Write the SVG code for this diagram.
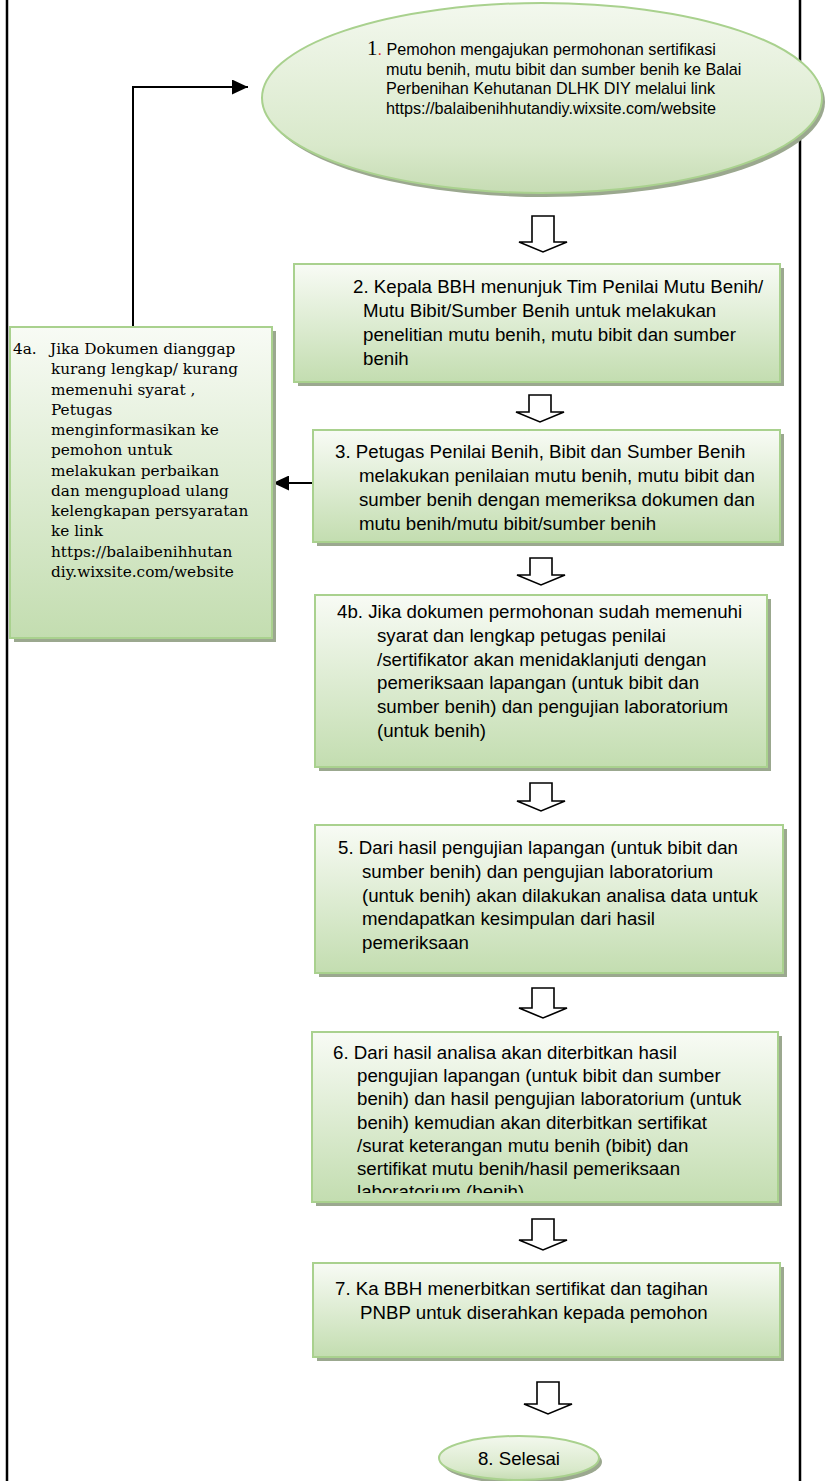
<svg xmlns="http://www.w3.org/2000/svg" width="832" height="1481" viewBox="0 0 832 1481">
  <defs>
    <linearGradient id="boxFill" x1="0" y1="0" x2="0" y2="1">
      <stop offset="0" stop-color="#f8fbf5"/>
      <stop offset="1" stop-color="#c3ddb0"/>
    </linearGradient>
    <linearGradient id="ovalFill" x1="0" y1="0" x2="0" y2="1">
      <stop offset="0" stop-color="#f3f8ee"/>
      <stop offset="0.75" stop-color="#d9e9cb"/>
      <stop offset="1" stop-color="#c6dcb3"/>
    </linearGradient>
    <marker id="head" markerUnits="userSpaceOnUse" markerWidth="16" markerHeight="15" refX="16" refY="7.5" orient="auto">
      <path d="M0,0 L16,7.5 L0,15 Z" fill="#000"/>
    </marker>
    <clipPath id="clip6">
      <rect x="312" y="1032" width="466" height="161"/>
    </clipPath>
  </defs>
  <style>
    .shadow { fill: #9ba88f; }
    .box { fill: url(#boxFill); stroke: #a9d18e; stroke-width: 2; }
    .oval { fill: url(#ovalFill); stroke: #a9d18e; stroke-width: 2; }
    .t { font-family: "Liberation Sans", Arial, sans-serif; font-size: 18.7px; fill: #000; }
    .t1 { font-family: "Liberation Sans", Arial, sans-serif; font-size: 16.2px; fill: #000; }
    .ts { font-family: "DejaVu Serif", "Liberation Serif", serif; font-size: 15.3px; fill: #000; }
    .frame { stroke: #000; stroke-width: 2.5; fill: none; }
    .link { stroke: #000; stroke-width: 2; fill: none; }
    .block { fill: #fff; stroke: #000; stroke-width: 1.6; stroke-linejoin: miter; }
  </style>

  <rect width="832" height="1481" fill="#fff"/>

  <!-- page frame lines -->
  <g id="frame">
    <line class="frame" x1="7" y1="0" x2="7" y2="1481"/>
    <line class="frame" x1="800" y1="0" x2="800" y2="1481"/>
  </g>

  <!-- connectors -->
  <g id="connectors">
    <polyline class="link" points="133,327 133,87 248,87" marker-end="url(#head)"/>
    <line class="link" x1="317" y1="483" x2="273" y2="483" marker-end="url(#head)"/>
    <path class="block" d="M532,216 H554 V242 H567 L543,252 L519,242 H532 Z"/>
    <path class="block" d="M529,395 H551 V412 H564 L540,422 L516,412 H529 Z"/>
    <path class="block" d="M530,558 H552 V575 H565 L541,585 L517,575 H530 Z"/>
    <path class="block" d="M530,783 H552 V801 H565 L541,811 L517,801 H530 Z"/>
    <path class="block" d="M532,988 H554 V1008 H567 L543,1018 L519,1008 H532 Z"/>
    <path class="block" d="M532,1219 H554 V1240 H567 L543,1250 L519,1240 H532 Z"/>
    <path class="block" d="M537,1382 H559 V1404 H572 L548,1414 L524,1404 H537 Z"/>
  </g>

  <!-- step 1 -->
  <g id="step1">
    <ellipse class="shadow" cx="545" cy="102" rx="280" ry="95"/>
    <ellipse class="oval" cx="542" cy="98" rx="280" ry="95"/>
    <text class="t1" x="367" y="55"><tspan font-family="Liberation Serif, serif" font-size="21">1</tspan><tspan fill="#e02020">.</tspan> Pemohon mengajukan permohonan  sertifikasi</text>
    <text class="t1" x="386" y="74.5">mutu benih, mutu bibit dan sumber benih ke Balai</text>
    <text class="t1" x="386" y="94">Perbenihan Kehutanan DLHK DIY melalui link</text>
    <text class="t1" x="386" y="113.5">https://balaibenihhutandiy.wixsite.com/website</text>
  </g>

  <!-- step 2 -->
  <g id="step2">
    <rect class="shadow" x="298" y="268" width="486" height="118"/>
    <rect class="box" x="294" y="264" width="486" height="118"/>
    <text class="t" x="353" y="293">2. Kepala BBH menunjuk Tim Penilai Mutu Benih/</text>
    <text class="t" x="363" y="317">Mutu Bibit/Sumber Benih untuk melakukan</text>
    <text class="t" x="363" y="341">penelitian mutu benih, mutu bibit dan sumber</text>
    <text class="t" x="363" y="365">benih</text>
  </g>

  <!-- step 3 -->
  <g id="step3">
    <rect class="shadow" x="317" y="434" width="467" height="112"/>
    <rect class="box" x="313" y="430" width="467" height="112"/>
    <text class="t" x="335" y="458">3. Petugas Penilai Benih, Bibit dan Sumber Benih</text>
    <text class="t" x="359" y="482">melakukan penilaian mutu benih, mutu bibit dan</text>
    <text class="t" x="359" y="506">sumber benih dengan memeriksa dokumen dan</text>
    <text class="t" x="359" y="530">mutu benih/mutu bibit/sumber benih</text>
  </g>

  <!-- step 4a: documents incomplete -->
  <g id="step4a">
    <rect class="shadow" x="14" y="331" width="262" height="311"/>
    <rect class="box" x="10" y="327" width="262" height="311"/>
    <text class="ts" x="13" y="354">4a.</text>
    <text class="ts" x="50" y="354">Jika Dokumen dianggap</text>
    <text class="ts" x="51" y="374">kurang lengkap/ kurang</text>
    <text class="ts" x="51" y="395">memenuhi syarat ,</text>
    <text class="ts" x="51" y="415">Petugas</text>
    <text class="ts" x="51" y="435">menginformasikan ke</text>
    <text class="ts" x="51" y="455">pemohon untuk</text>
    <text class="ts" x="51" y="476">melakukan  perbaikan</text>
    <text class="ts" x="51" y="496">dan  mengupload ulang</text>
    <text class="ts" x="51" y="516">kelengkapan persyaratan</text>
    <text class="ts" x="51" y="536">ke link</text>
    <text class="ts" x="51" y="557">https://balaibenihhutan</text>
    <text class="ts" x="51" y="577">diy.wixsite.com/website</text>
  </g>

  <!-- step 4b: documents complete -->
  <g id="step4b">
    <rect class="shadow" x="319" y="599" width="452" height="172"/>
    <rect class="box" x="315" y="595" width="452" height="172"/>
    <text class="t" x="337" y="618">4b.  Jika dokumen permohonan sudah memenuhi</text>
    <text class="t" x="377" y="641.8">syarat dan lengkap petugas penilai</text>
    <text class="t" x="377" y="665.6">/sertifikator akan menidaklanjuti dengan</text>
    <text class="t" x="377" y="689.4">pemeriksaan lapangan (untuk bibit dan</text>
    <text class="t" x="377" y="713.2">sumber benih) dan pengujian laboratorium</text>
    <text class="t" x="377" y="737">(untuk benih)</text>
  </g>

  <!-- step 5 -->
  <g id="step5">
    <rect class="shadow" x="319" y="829" width="468" height="148"/>
    <rect class="box" x="315" y="825" width="468" height="148"/>
    <text class="t" x="338" y="854">5. Dari hasil pengujian lapangan (untuk bibit dan</text>
    <text class="t" x="362" y="877.8">sumber benih) dan pengujian laboratorium</text>
    <text class="t" x="362" y="901.6">(untuk benih) akan dilakukan analisa data untuk</text>
    <text class="t" x="362" y="925.4">mendapatkan kesimpulan dari hasil</text>
    <text class="t" x="362" y="949.2">pemeriksaan</text>
  </g>

  <!-- step 6 -->
  <g id="step6">
    <rect class="shadow" x="316" y="1036" width="466" height="170"/>
    <rect class="box" x="312" y="1032" width="466" height="170"/>
    <g clip-path="url(#clip6)">
      <text class="t" x="333" y="1059">6. Dari hasil analisa akan diterbitkan hasil</text>
      <text class="t" x="357" y="1082.2">pengujian lapangan (untuk bibit dan sumber</text>
      <text class="t" x="357" y="1105.4">benih) dan hasil pengujian laboratorium (untuk</text>
      <text class="t" x="357" y="1128.6">benih) kemudian akan diterbitkan sertifikat</text>
      <text class="t" x="357" y="1151.8">/surat keterangan mutu benih (bibit) dan</text>
      <text class="t" x="357" y="1175">sertifikat mutu benih/hasil pemeriksaan</text>
      <text class="t" x="357" y="1198.2">laboratorium (benih)</text>
    </g>
  </g>

  <!-- step 7 -->
  <g id="step7">
    <rect class="shadow" x="317" y="1267" width="467" height="94"/>
    <rect class="box" x="313" y="1263" width="467" height="94"/>
    <text class="t" x="335" y="1295">7.  Ka BBH menerbitkan sertifikat dan tagihan</text>
    <text class="t" x="360" y="1319">PNBP untuk diserahkan kepada pemohon</text>
  </g>

  <!-- step 8: end -->
  <g id="step8">
    <ellipse class="shadow" cx="522" cy="1462" rx="80" ry="22"/>
    <ellipse class="oval" cx="519" cy="1458" rx="80" ry="22"/>
    <text class="t" x="519" y="1465" text-anchor="middle">8. Selesai</text>
  </g>
</svg>
